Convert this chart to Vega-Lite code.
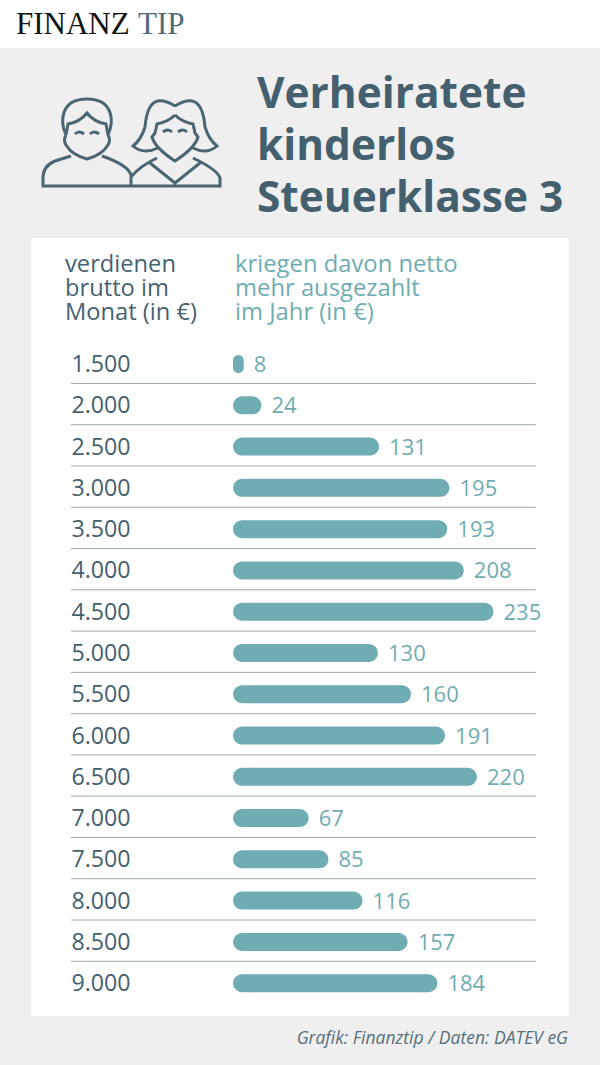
{
"$schema":"https://vega.github.io/schema/vega-lite/v6.json",
"width":600,"height":1065,
"autosize":{"type":"fit","contains":"padding"},
"padding":0,
"background":"#efefef",
"config":{"view":{"stroke":null}},
"datasets":{
"rows":[
{"brutto":"1.500","netto":8},{"brutto":"2.000","netto":24},{"brutto":"2.500","netto":131},{"brutto":"3.000","netto":195},
{"brutto":"3.500","netto":193},{"brutto":"4.000","netto":208},{"brutto":"4.500","netto":235},{"brutto":"5.000","netto":130},
{"brutto":"5.500","netto":160},{"brutto":"6.000","netto":191},{"brutto":"6.500","netto":220},{"brutto":"7.000","netto":67},
{"brutto":"7.500","netto":85},{"brutto":"8.000","netto":116},{"brutto":"8.500","netto":157},{"brutto":"9.000","netto":184}],
"one":[{"k":1}]
},
"data":{"name":"rows"},
"layer":[
{"data":{"name":"one"},"mark":{"type":"rect","fill":"#ffffff"},"encoding":{"x":{"value":0},"x2":{"value":600},"y":{"value":0},"y2":{"value":48}}},
{"data":{"name":"one"},"mark":{"type":"rect","fill":"#ffffff"},"encoding":{"x":{"value":31},"x2":{"value":569},"y":{"value":238},"y2":{"value":1016}}},
{"data":{"name":"one"},"mark":{"type":"text","text":"FINANZ","font":"Liberation Serif","fontSize":31,"color":"#111111","align":"left","baseline":"alphabetic"},"encoding":{"x":{"value":16},"y":{"value":34}}},
{"data":{"name":"one"},"mark":{"type":"text","text":"TIP","font":"Liberation Serif","fontSize":31,"color":"#4f6b7a","align":"left","baseline":"alphabetic"},"encoding":{"x":{"value":138},"y":{"value":34}}},
{"data":{"name":"one"},"mark":{"type":"text","text":["Verheiratete","kinderlos","Steuerklasse 3"],"lineHeight":52,"font":"Open Sans","fontWeight":"bold","fontSize":42.4,"color":"#44606e","align":"left","baseline":"alphabetic"},"encoding":{"x":{"value":257},"y":{"value":108}}},
{"data":{"name":"one"},"mark":{"type":"point","filled":false,"opacity":1,"size":4,"stroke":"#4a6673","strokeWidth":3,"shape":"M66 135 C60 122 60 99 87 99 C114 99 114 122 108 135 M66 135 L68 124 Q80 122 87 113 Q94 122 106 124 L108 135 M66 135 Q63 140 66 145 Q72 155 87 159 Q102 155 108 145 Q111 140 108 135 M71 156 L55 161 Q43 166 43 178 V186 H220 V178 Q218 170 193 158 M131 186 V175 Q128 165 102 156 M131 177 Q140 166 157 158 M150 163 L175 183 L200 163 M175 183 V186 M175 106 Q165 100 158 101 Q147 103 145 127 Q141 140 133 146 Q143 155 158 148 M175 106 Q185 100 192 101 Q203 103 205 127 Q209 140 217 146 Q207 155 193 148 M175 115 Q168 122 157 124 L155 133 L152 137 Q155 148 175 161 Q195 148 198 137 L195 133 L193 124 Q182 122 175 115 M75 134 Q79 130 84 134 M90 134 Q94 130 99 134 M163 132 Q168 128 172 132 M178 132 Q183 128 187 132"},"encoding":{"x":{"value":0},"y":{"value":0}}},
{"data":{"name":"one"},"mark":{"type":"text","text":["verdienen","brutto im","Monat (in €)"],"lineHeight":24,"font":"Open Sans","fontSize":23.7,"color":"#466270","align":"left","baseline":"alphabetic"},"encoding":{"x":{"value":65},"y":{"value":272}}},
{"data":{"name":"one"},"mark":{"type":"text","text":["kriegen davon netto","mehr ausgezahlt","im Jahr (in €)"],"lineHeight":24,"font":"Open Sans","fontSize":23.8,"color":"#6fadb2","align":"left","baseline":"alphabetic"},"encoding":{"x":{"value":235},"y":{"value":272}}},
{"transform":[{"filter":"datum.brutto !== '9.000'"}],"mark":{"type":"rule","stroke":"#9aa8aa","strokeWidth":1},"encoding":{"y":{"field":"brutto","type":"ordinal","sort":null,"bandPosition":0.97,"scale":{"type":"band","range":[343.4,1003.8],"paddingInner":0,"paddingOuter":0},"axis":null},"x":{"value":71},"x2":{"value":536}}},
{"mark":{"type":"bar","size":16,"fill":"#6fadb2","stroke":"#6fadb2","strokeWidth":2,"cornerRadius":8},"encoding":{"y":{"field":"brutto","type":"ordinal","sort":null,"axis":null},"x":{"field":"netto","type":"quantitative","scale":{"domain":[-212.727,332.727],"nice":false,"zero":false},"axis":null},"x2":{"datum":0}}},
{"mark":{"type":"text","font":"Open Sans","fontSize":23.2,"color":"#44606e","align":"left","baseline":"middle","dy":1},"encoding":{"y":{"field":"brutto","type":"ordinal","sort":null,"axis":null},"x":{"value":71.5},"text":{"field":"brutto"}}},
{"mark":{"type":"text","font":"Open Sans","fontSize":22,"color":"#6fadb2","align":"left","baseline":"middle","dx":11,"dy":1},"encoding":{"y":{"field":"brutto","type":"ordinal","sort":null,"axis":null},"x":{"field":"netto","type":"quantitative","axis":null},"text":{"field":"netto","type":"quantitative"}}},
{"data":{"name":"one"},"mark":{"type":"text","text":"Grafik: Finanztip / Daten: DATEV eG","font":"Open Sans","fontStyle":"italic","fontSize":17.5,"color":"#56707c","align":"right","baseline":"alphabetic"},"encoding":{"x":{"value":568},"y":{"value":1044}}}
]
}
